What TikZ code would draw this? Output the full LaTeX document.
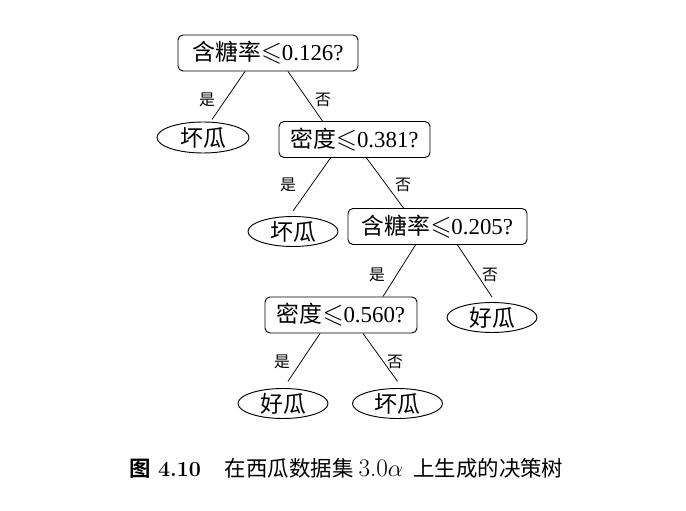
\documentclass[tikz,border=0pt]{standalone}
\usepackage{amssymb}
\usepackage{fontspec}
\newfontfamily\cjk{Noto Sans CJK SC}
\newfontfamily\cjkb{Noto Sans CJK SC Bold}
\newfontfamily\tms{Liberation Serif}
\newcommand{\myleq}{{\fontsize{23}{24}\selectfont$\leqslant$}}
\usetikzlibrary{shapes.geometric}
\tikzset{
  testbox/.style={draw, line width=0.8pt, rounded corners=0.15cm, minimum height=1.08cm, inner xsep=0.2cm, inner ysep=0pt, font=\fontsize{19.5}{20}\selectfont\tms},
  leafnode/.style={draw, ellipse, line width=0.8pt, minimum width=2.7cm, minimum height=0.9cm, inner sep=0pt, font=\fontsize{19.5}{20}\selectfont\cjk},
  edgelabel/.style={inner sep=0pt, font=\fontsize{13.5}{14}\selectfont\cjk},
  branch/.style={line width=0.65pt}
}
\begin{document}
\begin{tikzpicture}[x=0.03cm, y=-0.03cm]
\useasboundingbox (0,0) rectangle (686,511);
\node[testbox, minimum width=5.4cm] (n1) at (268,53) {{\cjk 含糖率}\myleq0.126?};
\node[testbox, minimum width=4.53cm] (n2) at (354.5,139.5) {{\cjk 密度}\myleq0.381?};
\node[testbox, minimum width=5.37cm] (n3) at (437.5,226.5) {{\cjk 含糖率}\myleq0.205?};
\node[testbox, minimum width=4.56cm] (n4) at (341,315) {{\cjk 密度}\myleq0.560?};
\node[leafnode, minimum width=2.76cm, minimum height=0.93cm] (e1) at (203,137.5) {坏瓜};
\node[leafnode] (e2) at (293,231.5) {坏瓜};
\node[leafnode] (e3) at (492,317.5) {好瓜};
\node[leafnode] (e4) at (283,403.5) {好瓜};
\node[leafnode] (e5) at (397.5,403.5) {坏瓜};
\draw[branch] ([xshift=-0.69cm]n1.south) -- ([xshift=0.27cm,yshift=0.06cm]e1.north);
\draw[branch] ([xshift=0.6cm]n1.south) -- ([xshift=-0.96cm]n2.north);
\draw[branch] ([xshift=-0.72cm]n2.south) -- ([yshift=0.15cm]e2.north);
\draw[branch] ([xshift=0.36cm]n2.south) -- ([xshift=-1.02cm]n3.north);
\draw[branch] ([xshift=-0.66cm]n3.south) -- ([xshift=1.26cm]n4.north);
\draw[branch] ([xshift=0.6cm]n3.south) -- ([yshift=0.15cm]e3.north);
\draw[branch] ([xshift=-0.63cm]n4.south) -- ([xshift=0.15cm,yshift=0.2cm]e4.north);
\draw[branch] ([xshift=0.66cm]n4.south) -- ([yshift=0.2cm]e5.north);
\node[edgelabel] (l1) at (207,100) {是};
\node[edgelabel] (l2) at (323,100) {否};
\node[edgelabel] (l3) at (288,185) {是};
\node[edgelabel] (l4) at (403,185) {否};
\node[edgelabel] (l5) at (377,275) {是};
\node[edgelabel] (l6) at (490,275) {否};
\node[edgelabel] (l7) at (282,362) {是};
\node[edgelabel] (l8) at (395,362) {否};
\node[anchor=base west, inner sep=0pt, font=\fontsize{18.3}{20}\selectfont] (cap) at (129,477)
  {{\cjkb 图}\hspace{0.22cm}\textbf{4.10}\hspace{0.72cm}{\cjk 在西瓜数据集}\hspace{0.15cm}{\fontsize{21.5}{22}\selectfont 3.0$\alpha$}\hspace{0.3cm}{\cjk 上生成的决策树}};
\end{tikzpicture}
\end{document}
